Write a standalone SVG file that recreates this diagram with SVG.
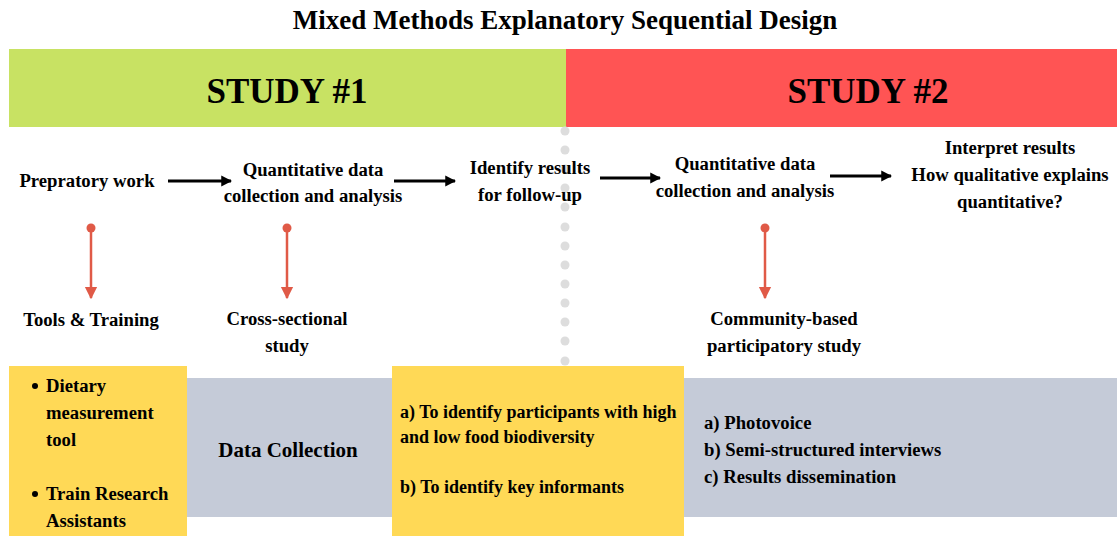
<svg xmlns="http://www.w3.org/2000/svg" width="1117" height="536" viewBox="0 0 1117 536">
<defs>
<style>
text{font-family:"Liberation Serif","Times New Roman",serif;font-weight:bold;fill:#000}
.title{font-size:27px}
.band{font-size:35px}
.lbl{font-size:18.7px}
.box{font-size:18px}
.blk{stroke:#000;stroke-width:3;fill:none}
.red{stroke:#e05a47;stroke-width:2.5;fill:none}
.dot{fill:#dddddd}
</style>
<marker id="ab" viewBox="0 0 10 10" refX="9" refY="5" markerWidth="3.6" markerHeight="4" markerUnits="strokeWidth" orient="auto"><path d="M0,0 L10,5 L0,10 Z" fill="#000"/></marker>
<marker id="ar" viewBox="0 0 10 10" refX="9" refY="5" markerWidth="5" markerHeight="6" markerUnits="strokeWidth" orient="auto"><path d="M0,0 L10,5 L0,10 Z" fill="#e05a47"/></marker>
</defs>
<rect width="1117" height="536" fill="#fff"/>
<text class="title" x="565" y="29" text-anchor="middle">Mixed Methods Explanatory Sequential Design</text>
<g id="study1"><rect x="9" y="49" width="557" height="78" fill="#c8e263"/><text class="band" x="287" y="103" text-anchor="middle">STUDY #1</text></g>
<g id="study2"><rect x="566" y="49" width="551" height="78" fill="#ff5454"/><text class="band" x="868" y="103" text-anchor="middle">STUDY #2</text></g>
<g id="divider">
<circle class="dot" cx="565" cy="131" r="4.5"/><circle class="dot" cx="565" cy="150" r="4.5"/><circle class="dot" cx="565" cy="169" r="4.5"/><circle class="dot" cx="565" cy="188" r="4.5"/><circle class="dot" cx="565" cy="207" r="4.5"/><circle class="dot" cx="565" cy="227" r="4.5"/><circle class="dot" cx="565" cy="246" r="4.5"/><circle class="dot" cx="565" cy="265" r="4.5"/><circle class="dot" cx="565" cy="284" r="4.5"/><circle class="dot" cx="565" cy="303" r="4.5"/><circle class="dot" cx="565" cy="322" r="4.5"/><circle class="dot" cx="565" cy="341" r="4.5"/><circle class="dot" cx="565" cy="361" r="4.5"/>
</g>
<g id="connectors">
<line class="blk" x1="168" y1="181" x2="231" y2="181" marker-end="url(#ab)"/>
<line class="blk" x1="394" y1="181" x2="455" y2="181" marker-end="url(#ab)"/>
<line class="blk" x1="600" y1="178" x2="660" y2="178" marker-end="url(#ab)"/>
<line class="blk" x1="830" y1="176" x2="891" y2="176" marker-end="url(#ab)"/>
<circle cx="91" cy="228" r="4.5" fill="#e05a47"/><line class="red" x1="91" y1="228" x2="91" y2="298" marker-end="url(#ar)"/>
<circle cx="287" cy="228" r="4.5" fill="#e05a47"/><line class="red" x1="287" y1="228" x2="287" y2="298" marker-end="url(#ar)"/>
<circle cx="765" cy="228" r="4.5" fill="#e05a47"/><line class="red" x1="765" y1="228" x2="765" y2="298" marker-end="url(#ar)"/>
</g>
<g id="prep"><text class="lbl" x="87" y="187" text-anchor="middle">Prepratory work</text></g>
<g id="quant1"><text class="lbl" x="313" y="176" text-anchor="middle">Quantitative data</text><text class="lbl" x="313" y="202" text-anchor="middle">collection and analysis</text></g>
<g id="identify"><text class="lbl" x="530" y="174" text-anchor="middle">Identify results</text><text class="lbl" x="530" y="201" text-anchor="middle">for follow-up</text></g>
<g id="quant2"><text class="lbl" x="745" y="170" text-anchor="middle">Quantitative data</text><text class="lbl" x="745" y="197" text-anchor="middle">collection and analysis</text></g>
<g id="interpret"><text class="lbl" x="1010" y="154" text-anchor="middle">Interpret results</text><text class="lbl" x="1010" y="181" text-anchor="middle">How qualitative explains</text><text class="lbl" x="1010" y="208" text-anchor="middle">quantitative?</text></g>
<g id="tools"><text class="lbl" x="91" y="326" text-anchor="middle">Tools &amp; Training</text></g>
<g id="cross"><text class="lbl" x="287" y="325" text-anchor="middle">Cross-sectional</text><text class="lbl" x="287" y="352" text-anchor="middle">study</text></g>
<g id="cbpr"><text class="lbl" x="784" y="325" text-anchor="middle">Community-based</text><text class="lbl" x="784" y="352" text-anchor="middle">participatory study</text></g>
<g id="box-tools"><rect x="9" y="366" width="178" height="170" fill="#ffd956"/>
<circle cx="35" cy="386" r="3" fill="#000"/><circle cx="35" cy="494" r="3" fill="#000"/>
<text class="lbl" x="46" y="392">Dietary</text><text class="lbl" x="46" y="419">measurement</text><text class="lbl" x="46" y="446">tool</text>
<text class="lbl" x="46" y="500">Train Research</text><text class="lbl" x="46" y="527">Assistants</text></g>
<g id="box-dc"><rect x="187" y="378" width="205" height="139" fill="#c5cbd8"/><text x="288" y="457" text-anchor="middle" font-size="21">Data Collection</text></g>
<g id="box-identify"><rect x="392" y="366" width="292" height="170" fill="#ffd956"/>
<text class="box" x="400" y="418">a) To identify participants with high</text><text class="box" x="400" y="443">and low food biodiversity</text><text class="box" x="400" y="493">b) To identify key informants</text></g>
<g id="box-qual"><rect x="684" y="378" width="433" height="139" fill="#c5cbd8"/>
<text class="lbl" x="704" y="429">a) Photovoice</text><text class="lbl" x="704" y="456">b) Semi-structured interviews</text><text class="lbl" x="704" y="483">c) Results dissemination</text></g>
</svg>
